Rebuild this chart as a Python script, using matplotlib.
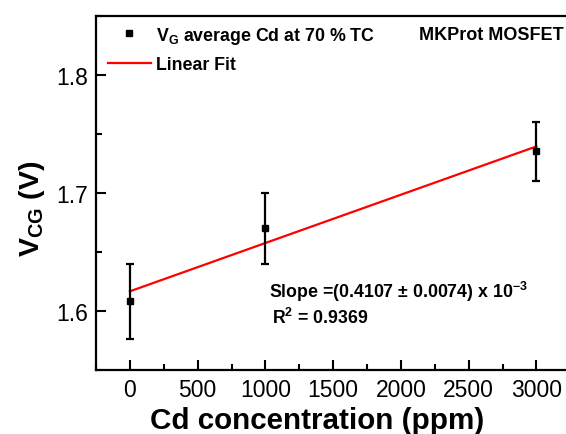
import numpy as np
import matplotlib
matplotlib.use("Agg")
import matplotlib.pyplot as plt
from matplotlib.lines import Line2D
from matplotlib.ticker import MultipleLocator

plt.rcParams['font.family'] = ['Liberation Sans', 'DejaVu Sans']
plt.rcParams['mathtext.default'] = 'regular'

# Measured gate voltage vs Cd concentration
cd_ppm = [0, 1000, 3000]
vcg = [1.608, 1.670, 1.735]
vcg_err = [0.032, 0.030, 0.025]

x_ticks = [0, 500, 1000, 1500, 2000, 2500, 3000]
y_ticks = [1.6, 1.7, 1.8]

slope_text = r"Slope =(0.4107 $\pm$ 0.0074) x 10$^{-3}$"
r2_text = r"R$^{2}$ = 0.9369"

fig = plt.figure(figsize=(5.66, 4.35), dpi=100)
# axes run past the right edge of the canvas
ax_right_px = 585
ax = fig.add_axes([96 / 566, 1 - 370.7 / 435, (ax_right_px - 96) / 566, 354 / 435])

# data with error bars
ax.errorbar(cd_ppm, vcg, yerr=vcg_err, fmt='s', color='black', ms=5,
            elinewidth=1.6, capsize=3.2, capthick=1.6, zorder=3)

# linear fit
coef = np.polyfit(cd_ppm, vcg, 1)
xf = np.array([min(cd_ppm), max(cd_ppm)])
ax.plot(xf, np.polyval(coef, xf), color='red', lw=1.6, zorder=2)

px_per_ppm = 135.5 / 1000
ax.set_xlim(-250, -250 + (ax_right_px - 96) / px_per_ppm)
ax.set_ylim(1.55, 1.85)
ax.set_xticks(x_ticks)
ax.set_yticks(y_ticks)
ax.xaxis.set_minor_locator(MultipleLocator(250))
ax.yaxis.set_minor_locator(MultipleLocator(0.05))
ax.tick_params(which='major', direction='in', length=7, width=1.5,
               labelsize=16.5, pad=6)
ax.tick_params(which='minor', direction='in', length=4, width=1.5)
for s in ax.spines.values():
    s.set_linewidth(1.6)

ax.set_xlabel("Cd concentration (ppm)", fontsize=21.3, fontweight='bold')
ax.set_ylabel(r"V$_{CG}$ (V)", fontsize=20.5, fontweight='bold')
axw = ax_right_px - 96
ax.xaxis.set_label_coords((317 - 96) / axw, -0.102)
ax.yaxis.set_label_coords((47 - 96) / axw, 0.457)

handles = [
    Line2D([], [], ls='none', marker='s', color='black', ms=5),
    Line2D([], [], color='red', lw=1.6),
]
labels = [r"V$_{G}$ average Cd at 70 % TC", "Linear Fit"]
leg = ax.legend(handles, labels, loc='upper left',
                bbox_to_anchor=(11.6 / axw, 0.975),
                frameon=False, borderpad=0, borderaxespad=0,
                handlelength=2.45, handletextpad=0.25, labelspacing=0.6,
                prop={'weight': 'bold', 'size': 12.8})

ax.text((419 - 96) / axw, 0.948, "MKProt MOSFET", transform=ax.transAxes,
        fontsize=13, fontweight='bold', ha='left', va='center')
ax.text((269 - 96) / axw, 0.223, slope_text, transform=ax.transAxes,
        fontsize=12.8, fontweight='bold', ha='left', va='center')
ax.text((271.5 - 96) / axw, 0.149, r2_text, transform=ax.transAxes,
        fontsize=12.8, fontweight='bold', ha='left', va='center')

fig.savefig("out.png", dpi=100)
